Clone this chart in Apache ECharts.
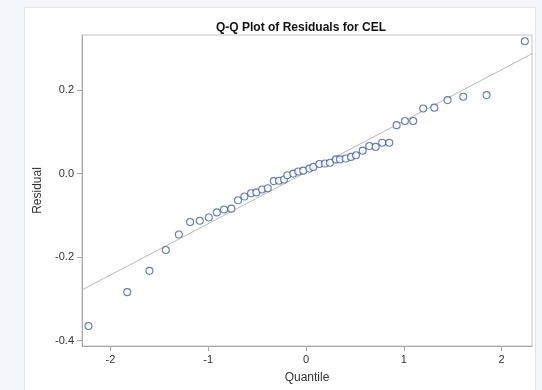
<!DOCTYPE html>
<html>
<head>
<meta charset="utf-8">
<script src="https://cdn.jsdelivr.net/npm/echarts@6/dist/echarts.min.js"></script>
<style>
  html, body { margin: 0; padding: 0; width: 542px; height: 390px; background: #f3f7fb; overflow: hidden; }
  .panel { position: absolute; left: 24px; top: 7px; width: 510px; height: 390px; background: #fff; border: 1px solid #e2e5e8; }
  #chart { position: absolute; left: 0; top: 0; width: 542px; height: 390px; }
</style>
</head>
<body>
<div class="panel"></div>
<div id="chart"></div>
<script>
// theoretical quantiles (x) and residuals (y)
const quantiles = [
  -2.224, -1.828, -1.601, -1.433, -1.300, -1.185, -1.086, -0.994, -0.912, -0.838,
  -0.763, -0.695, -0.630, -0.562, -0.508, -0.449, -0.391, -0.330, -0.276, -0.225,
  -0.191, -0.130, -0.079, -0.028, 0.034, 0.075, 0.136, 0.194, 0.245, 0.306,
  0.347, 0.406, 0.460, 0.511, 0.579, 0.647, 0.712, 0.779, 0.851, 0.926,
  1.011, 1.096, 1.198, 1.311, 1.447, 1.607, 1.846, 2.237,
]
const residuals = [
  -0.365, -0.284, -0.233, -0.183, -0.146, -0.116, -0.113, -0.105, -0.093, -0.086,
  -0.084, -0.064, -0.055, -0.047, -0.045, -0.038, -0.035, -0.018, -0.017, -0.014,
  -0.004, 0.000, 0.005, 0.007, 0.012, 0.016, 0.023, 0.024, 0.026, 0.034,
  0.034, 0.036, 0.040, 0.044, 0.055, 0.066, 0.064, 0.074, 0.074, 0.116,
  0.126, 0.126, 0.156, 0.158, 0.176, 0.184, 0.188, 0.317,
]
// reference line  y = lineIntercept + lineSlope * x
const lineIntercept = 0.003
const lineSlope = 0.123

const xTicks = [-2, -1, 0, 1, 2]
const yTicks = [-0.4, -0.2, 0.0, 0.2]
const xMin = -2.29
const xMax = 2.31
const yMin = -0.413
const yMax = 0.332

const points = quantiles.map((q, i) => [q, residuals[i]])

const chart = echarts.init(document.getElementById('chart'))
const axisColor = '#a9a9a9'
const fontFamily = 'Arial, "Liberation Sans", sans-serif'
const labelStyle = { color: '#333', fontSize: 11, fontFamily }

chart.setOption({
  animation: false,
  backgroundColor: 'transparent',
  title: {
    text: 'Q-Q Plot of Residuals for CEL',
    left: 296,
    top: 17,
    textAlign: 'center',
    textStyle: { fontSize: 12, fontWeight: 'bold', color: '#111', fontFamily },
  },
  grid: {
    left: 82,
    top: 35,
    right: 10,
    bottom: 44,
    show: true,
    borderColor: '#c4c4c4',
    borderWidth: 1,
    backgroundColor: '#fff',
  },
  xAxis: {
    type: 'value',
    min: xMin,
    max: xMax,
    name: 'Quantile',
    nameLocation: 'middle',
    nameGap: 26,
    nameTextStyle: { color: '#333', fontSize: 12, fontFamily },
    splitLine: { show: false },
    axisLine: { onZero: false, lineStyle: { color: axisColor } },
    axisTick: { show: true, length: 5, customValues: xTicks, lineStyle: { color: axisColor } },
    axisLabel: { ...labelStyle, margin: 8, customValues: xTicks, formatter: (v) => String(v) },
  },
  yAxis: {
    type: 'value',
    min: yMin,
    max: yMax,
    name: 'Residual',
    nameLocation: 'middle',
    nameGap: 37,
    nameRotate: 90,
    nameTextStyle: { color: '#333', fontSize: 12, fontFamily },
    splitLine: { show: false },
    axisLine: { show: true, onZero: false, lineStyle: { color: axisColor } },
    axisTick: { show: true, length: 5, customValues: yTicks, lineStyle: { color: axisColor } },
    axisLabel: { ...labelStyle, margin: 8, customValues: yTicks, formatter: (v) => v.toFixed(1) },
  },
  series: [
    {
      type: 'line',
      data: [
        [xMin, lineIntercept + lineSlope * xMin],
        [xMax, lineIntercept + lineSlope * xMax],
      ],
      symbol: 'none',
      lineStyle: { color: '#b9b9b9', width: 1 },
      silent: true,
      z: 1,
    },
    {
      type: 'scatter',
      data: points,
      symbol: 'circle',
      symbolSize: 7,
      itemStyle: { color: '#fff', borderColor: '#3f5e9e', borderWidth: 1.1 },
      z: 2,
    },
  ],
})
</script>
</body>
</html>
